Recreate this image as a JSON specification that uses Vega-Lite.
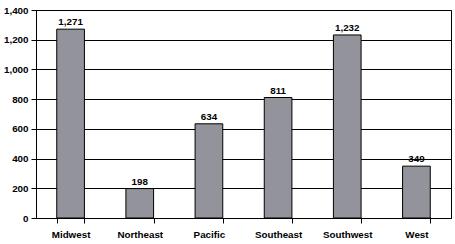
{
  "$schema": "https://vega.github.io/schema/vega-lite/v6.json",
  "autosize": "none",
  "width": 415,
  "height": 208,
  "padding": {"left": 36, "top": 10, "right": 4, "bottom": 26},
  "background": "white",
  "config": {
    "view": {"stroke": "black", "strokeWidth": 1},
    "font": "Liberation Sans"
  },
  "data": {"values": [
    {"region": "Midwest", "value": 1271},
    {"region": "Northeast", "value": 198},
    {"region": "Pacific", "value": 634},
    {"region": "Southeast", "value": 811},
    {"region": "Southwest", "value": 1232},
    {"region": "West", "value": 349}
  ]},
  "encoding": {
    "x": {"field": "region", "type": "nominal", "sort": null,
      "scale": {"paddingInner": 0.6, "paddingOuter": 0.3},
      "axis": {"title": null, "labelAngle": 0, "domainColor": "black", "tickColor": "black", "tickBand": "extent", "tickSize": 5, "labelFont": "Liberation Sans", "labelFontWeight": "bold", "labelFontSize": 9.8, "labelColor": "black", "labelPadding": 6}},
    "y": {"field": "value", "type": "quantitative",
      "scale": {"domain": [0, 1400]},
      "axis": {"title": null, "values": [0, 200, 400, 600, 800, 1000, 1200, 1400], "format": ",.0f", "gridColor": "black", "gridOpacity": 1, "domainColor": "black", "tickColor": "black", "tickSize": 5, "labelFont": "Liberation Sans", "labelFontWeight": "bold", "labelFontSize": 9.8, "labelColor": "black", "labelPadding": 3}}
  },
  "layer": [
    {"mark": {"type": "bar", "fill": "#93939c", "stroke": "black", "strokeWidth": 1}},
    {"mark": {"type": "text", "dy": -7, "fontWeight": "bold", "fontSize": 9.8, "font": "Liberation Sans", "color": "black"},
     "encoding": {"text": {"field": "value", "type": "quantitative", "format": ",.0f"}}}
  ]
}
